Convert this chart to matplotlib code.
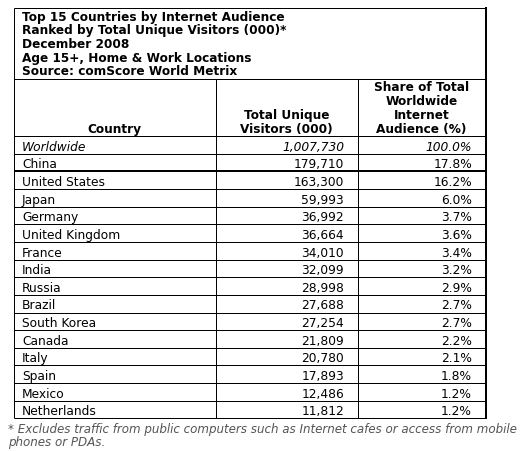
import matplotlib
matplotlib.use('Agg')
from matplotlib import pyplot as plt

title_lines = ['Top 15 Countries by Internet Audience',
               'Ranked by Total Unique Visitors (000)*',
               'December 2008',
               'Age 15+, Home & Work Locations',
               'Source: comScore World Metrix']
countries = ['Worldwide', 'China', 'United States', 'Japan', 'Germany', 'United Kingdom',
             'France', 'India', 'Russia', 'Brazil', 'South Korea', 'Canada', 'Italy',
             'Spain', 'Mexico', 'Netherlands']
visitors = [1007730, 179710, 163300, 59993, 36992, 36664, 34010, 32099, 28998,
            27688, 27254, 21809, 20780, 17893, 12486, 11812]
share = [100.0, 17.8, 16.2, 6.0, 3.7, 3.6, 3.4, 3.2, 2.9, 2.7, 2.7, 2.2, 2.1, 1.8, 1.2, 1.2]
footnote = ['* Excludes traffic from public computers such as Internet cafes or access from mobile',
            'phones or PDAs.']

W, H = 529, 452
fig = plt.figure(figsize=(W / 100, H / 100), dpi=100)
ax = fig.add_axes([0, 0, 1, 1])
ax.set_xlim(0, W)
ax.set_ylim(H, 0)
ax.axis('off')

px = 0.72  # one pixel in points
left, c1, c2, right = 13.5, 215.5, 357.5, 485.5
top, title_bot, head_bot = 8.5, 79.5, 137
row_h = 17.65
fs = 8.8
fsb = 8.7

def hline(y, x0=left, x1=right, w=1):
    ax.plot([x0, x1], [y, y], color='black', lw=w * px, solid_capstyle='butt')

def vline(x, y0, y1, w=1):
    ax.plot([x, x], [y0, y1], color='black', lw=w * px, solid_capstyle='butt')

# frame
hline(top)
hline(title_bot)
hline(head_bot)
vline(left, top, head_bot + row_h * len(countries))
vline(right, top - 0.5, head_bot + row_h * len(countries) + 0.5, w=2)
vline(c1, title_bot, head_bot + row_h * len(countries))
vline(c2, title_bot, head_bot + row_h * len(countries))

# title
for i, t in enumerate(title_lines):
    ax.text(22, 20.5 + i * 13.7, t, fontsize=fsb, fontweight='bold', va='baseline', ha='left')

# header
ax.text((left + c1) / 2, 133, 'Country', fontsize=fsb, fontweight='bold', ha='center', va='baseline')
for i, t in enumerate(['Total Unique', 'Visitors (000)']):
    ax.text((c1 + c2) / 2, 119.5 + i * 13.7, t, fontsize=fsb, fontweight='bold', ha='center', va='baseline')
for i, t in enumerate(['Share of Total', 'Worldwide', 'Internet', 'Audience (%)']):
    ax.text((c2 + right) / 2, 91 + i * 14.1, t, fontsize=fsb, fontweight='bold', ha='center', va='baseline')

# rows
for i, (c, v, s) in enumerate(zip(countries, visitors, share)):
    y0 = head_bot + i * row_h
    y1 = y0 + row_h
    hline(y1, w=2 if i == 1 else 1)
    style = 'italic' if i == 0 else 'normal'
    yb = y1 - 4
    ax.text(22, yb, c, fontsize=fs, style=style, ha='left', va='baseline')
    ax.text(344, yb, f'{v:,}', fontsize=fs, style=style, ha='right', va='baseline')
    ax.text(472, yb, f'{s:.1f}%', fontsize=fs, style=style, ha='right', va='baseline')

# footnote
for i, t in enumerate(footnote):
    ax.text(8, 433.5 + i * 12.5, t, fontsize=8.6, style='italic', color='#555555', ha='left', va='baseline')

fig.savefig('out.png', dpi=100)
